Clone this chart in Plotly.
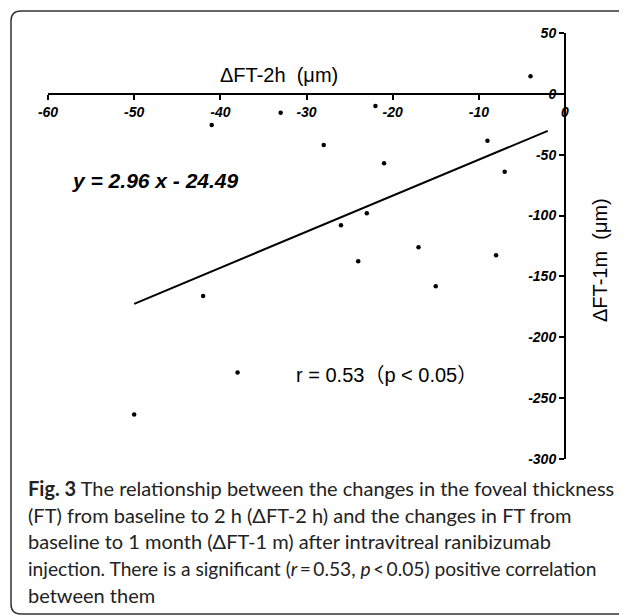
import plotly.graph_objects as go

# Data
dft_2h = [-4, -41, -33, -22, -28, -21, -9, -7, -26, -23, -24, -17, -15, -8, -42, -38, -50]
dft_1m = [14.5, -25.5, -15.6, -9.9, -42, -57, -38.5, -64, -108, -98, -137.5, -126, -158, -132.5, -166, -229, -263.5]

# Regression line end points (y = 2.96 x - 24.49)
fit_x = [-50, -2]
fit_y = [-172.5, -30.4]

x_ticks = [-60, -50, -40, -30, -20, -10, 0]
y_ticks = [50, 0, -50, -100, -150, -200, -250, -300]

caption_lines = [
    "<b>Fig. 3</b> The relationship between the changes in the foveal thickness",
    "(FT) from baseline to 2 h (ΔFT-2 h) and the changes in FT from",
    "baseline to 1 month (ΔFT-1 m) after intravitreal ranibizumab",
    "injection. There is a significant (<i>r</i>\u2009=\u20090.53, <i>p</i>\u2009&lt;\u20090.05) positive correlation",
    "between them",
]
caption_sizes = [20, 20, 20, 19.2, 20]

OFF = 8  # default page body margin
W, H = 627 - OFF, 615 - OFF
# plot area in page pixel coordinates
X0, X1, Y0, Y1 = 48, 565, 33, 459
L, R, T, B = X0 - OFF, W - (X1 - OFF), Y0 - OFF, H - (Y1 - OFF)
PW, PH = W - L - R, H - T - B


def px(xp):
    return (xp - OFF - L) / PW


def py(yp):
    return (H - B - (yp - OFF)) / PH


fig = go.Figure()
fig.add_trace(go.Scatter(x=dft_2h, y=dft_1m, mode="markers",
                         marker=dict(color="black", size=4.5), showlegend=False))
fig.add_trace(go.Scatter(x=fit_x, y=fit_y, mode="lines",
                         line=dict(color="black", width=2), showlegend=False))

tickfont = dict(family="Arial, Liberation Sans", size=14, color="black",
                weight="bold", style="italic")

fig.update_layout(
    width=W, height=H,
    margin=dict(l=L, r=R, t=T, b=B),
    paper_bgcolor="white", plot_bgcolor="white",
    xaxis=dict(range=[-60, 0], tickvals=x_ticks, ticktext=[str(v) for v in x_ticks],
               showgrid=False, zeroline=False, showline=True, linecolor="black",
               linewidth=2, ticks="outside", ticklen=5, tickwidth=1.5, tickcolor="black",
               tickfont=tickfont, anchor="free", position=300 / 350, side="bottom"),
    yaxis=dict(range=[-300, 50], tickvals=y_ticks, ticktext=[str(v) for v in y_ticks],
               showgrid=False, zeroline=False, showline=True, linecolor="black",
               linewidth=2, ticks="outside", ticklen=5, tickwidth=1.5, tickcolor="black",
               tickfont=tickfont, anchor="free", position=1.0, side="left"),
)

ann = []
ann.append(dict(text="ΔFT-2h  (μm)", x=px(279), y=py(75), xref="paper", yref="paper",
                showarrow=False, xanchor="center", yanchor="middle",
                font=dict(family="Arial, Liberation Sans", size=20, color="black")))
ann.append(dict(text="ΔFT-1m  (μm)", x=px(600), y=py(260), xref="paper", yref="paper",
                showarrow=False, xanchor="center", yanchor="middle", textangle=-90,
                font=dict(family="Arial, Liberation Sans", size=20, color="black")))
ann.append(dict(text="y = 2.96 x - 24.49", x=px(70), y=py(180), xref="paper", yref="paper",
                showarrow=False, xanchor="left", yanchor="middle",
                font=dict(family="Arial, Liberation Sans", size=21, color="black",
                          weight="bold", style="italic")))
ann.append(dict(text="r = 0.53（p < 0.05）", x=px(294), y=py(375), xref="paper", yref="paper",
                showarrow=False, xanchor="left", yanchor="middle",
                font=dict(family="Arial, Liberation Sans, Noto Sans CJK SC", size=20, color="black")))

cap_y = [488, 515, 541, 568, 595]
for line, yc, fs in zip(caption_lines, cap_y, caption_sizes):
    ann.append(dict(text=line, x=px(26), y=py(yc), xref="paper", yref="paper",
                    showarrow=False, xanchor="left", yanchor="middle",
                    font=dict(family="Lato", size=fs, color="#222222")))
fig.update_layout(annotations=ann)

# rounded frame around the figure panel
path = (f"M {px(660)},{py(11)} L {px(21)},{py(11)} Q {px(11)},{py(11)} {px(11)},{py(21)} "
        f"L {px(11)},{py(604)} Q {px(11)},{py(614)} {px(21)},{py(614)} L {px(660)},{py(614)}")
fig.add_shape(type="path", path=path, xref="paper", yref="paper",
              line=dict(color="#333333", width=1.5))

fig.write_html("out.html")
